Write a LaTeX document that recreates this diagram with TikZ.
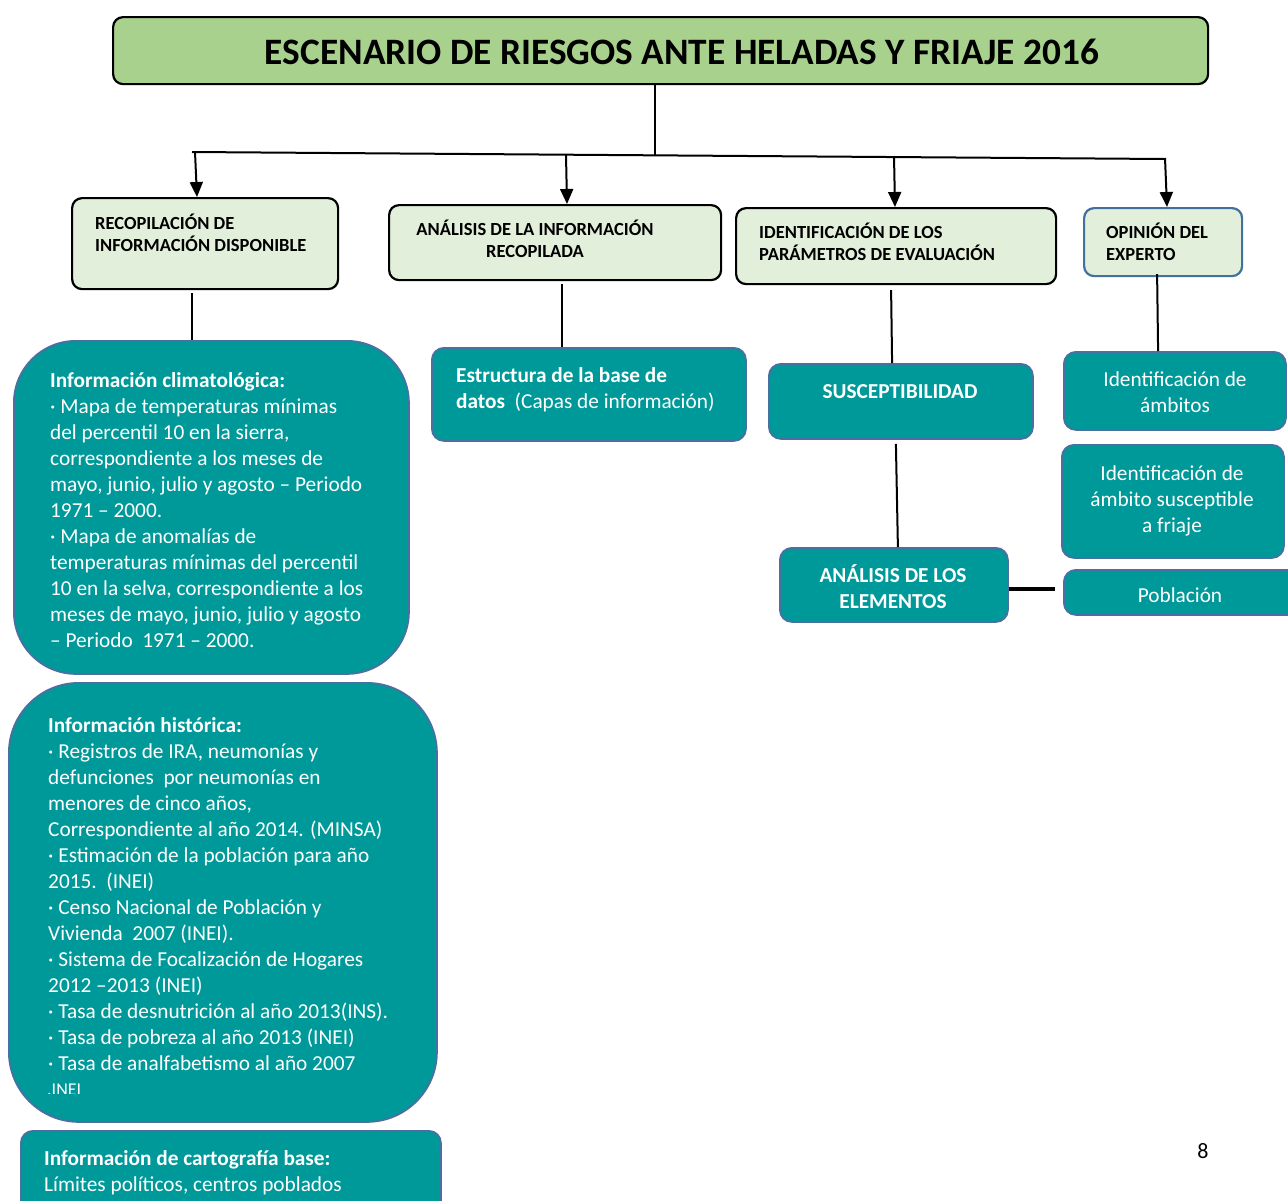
\documentclass[tikz,border=0pt]{standalone}
\usepackage{fontspec}
\setmainfont{Carlito}
\usetikzlibrary{arrows.meta}
\definecolor{titlegreen}{HTML}{A9D18E}
\definecolor{lightgreen}{HTML}{E2EFDA}
\definecolor{tealfill}{HTML}{009999}
\definecolor{tealborder}{HTML}{4A6FA0}
\definecolor{blueborder}{HTML}{41719C}
\newcommand\txtblock[2]{\parbox[t]{#1}{\raggedright #2}}
\newcommand\ctrblock[2]{\parbox[t]{#1}{\centering #2}}
\tikzset{
  boxbase/.style={inner sep=0pt, anchor=north west},
  titlebox/.style={boxbase, draw=black, line width=2.2pt, fill=titlegreen, rounded corners=10pt},
  stepbox/.style={boxbase, draw=black, line width=2.2pt, fill=lightgreen, rounded corners=10pt},
  expertbox/.style={boxbase, draw=blueborder, line width=2.2pt, fill=lightgreen, rounded corners=10pt},
  tealbox/.style={boxbase, draw=tealborder, line width=1.8pt, fill=tealfill, rounded corners=12pt},
  bigteal/.style={tealbox, rounded corners=62pt},
  txt/.style={inner sep=0pt, anchor=base west},
  ctxt/.style={inner sep=0pt, anchor=base},
  headfont/.style={font=\bfseries\fontsize{18.5}{22.5}\selectfont},
  bodyfont/.style={font=\fontsize{21.3}{26}\selectfont, text=white},
  conn/.style={line width=2pt, draw=black},
  arr/.style={conn, -{Triangle[length=15pt,width=13pt]}}
}
\begin{document}
\begin{tikzpicture}[x=1pt,y=-1pt]
\useasboundingbox (0,0) rectangle (1288,1200);
\clip (0,0) rectangle (1288,1200);
\fill[white] (0,0) rectangle (1288,1200);

% title
\node[titlebox, minimum width=1095pt, minimum height=67pt] (title) at (112,16) {};
\node[ctxt, font=\bfseries\fontsize{37.3}{40}\selectfont] (titletxt) at (682,64) {ESCENARIO DE RIESGOS ANTE HELADAS Y FRIAJE 2016};

% second row
\node[stepbox, minimum width=266pt, minimum height=91pt] (b1) at (71,197) {};
\node[stepbox, minimum width=332pt, minimum height=75pt] (b2) at (388,204) {};
\node[stepbox, minimum width=320pt, minimum height=76pt] (b3) at (735,207) {};
\node[expertbox, minimum width=158pt, minimum height=68pt] (b4) at (1083,207) {};
\node[txt, headfont] (b1t) at (95,229) {\txtblock{240pt}{RECOPILACIÓN DE\\INFORMACIÓN DISPONIBLE}};
\node[ctxt, headfont] (b2t) at (535,235) {\ctrblock{320pt}{ANÁLISIS DE LA INFORMACIÓN\\RECOPILADA}};
\node[txt, headfont] (b3t) at (759,238) {\txtblock{290pt}{IDENTIFICACIÓN DE LOS\\PARÁMETROS DE EVALUACIÓN}};
\node[txt, headfont] (b4t) at (1106,238) {\txtblock{130pt}{OPINIÓN DEL\\EXPERTO}};

% teal boxes, left column
\node[bigteal, minimum width=395pt, minimum height=333pt] (c1) at (13,340) {};
\node[txt, bodyfont] (c1t) at (50,387) {\txtblock{370pt}{\textbf{Información climatológica:}\\
· Mapa de temperaturas mínimas\\
del percentil 10 en la sierra,\\
correspondiente a los meses de\\
mayo, junio, julio y agosto – Periodo\\
1971 – 2000.\\
· Mapa de anomalías de\\
temperaturas mínimas del percentil\\
10 en la selva, correspondiente a los\\
meses de mayo, junio, julio y agosto\\
– Periodo\ \ 1971 – 2000.}};

\node[bigteal, rounded corners=70pt, minimum width=428pt, minimum height=439pt] (c2) at (8,682) {};
\node[txt, bodyfont] (c2t) at (48,732) {\txtblock{385pt}{\textbf{Información histórica:}\\
· Registros de IRA, neumonías y\\
defunciones\ \ por neumonías en\\
menores de cinco años,\\
Correspondiente al año 2014. (MINSA)\\
· Estimación de la población para año\\
2015.\ \ (INEI)\\
· Censo Nacional de Población y\\
Vivienda\ \ 2007 (INEI).\\
· Sistema de Focalización de Hogares\\
2012 –2013 (INEI)\\
· Tasa de desnutrición al año 2013(INS).\\
· Tasa de pobreza al año 2013 (INEI)\\
· Tasa de analfabetismo al año 2007}};
\begin{scope}
\clip (40,1076) rectangle (120,1093);
\node[txt, font=\fontsize{18}{20}\selectfont, text=white] (c2x) at (47,1095) {.INEI};
\end{scope}

\node[tealbox, minimum width=420pt, minimum height=100pt] (c3) at (20,1130) {};
\node[txt, bodyfont] (c3t) at (44,1165) {\txtblock{390pt}{\textbf{Información de cartografía base:}\\
Límites políticos, centros poblados}};

% middle teal boxes
\node[tealbox, minimum width=314pt, minimum height=93pt] (d1) at (431,347) {};
\node[txt, bodyfont] (d1t) at (456,382) {\txtblock{290pt}{\textbf{Estructura de la base de}\\\textbf{datos}\ \ (Capas de información)}};
\node[tealbox, minimum width=264pt, minimum height=75pt] (d2) at (768,363) {};
\node[ctxt, bodyfont] (d2t) at (900,398) {\textbf{SUSCEPTIBILIDAD}};
\node[tealbox, minimum width=228pt, minimum height=74pt] (d3) at (779,547) {};
\node[ctxt, bodyfont] (d3t) at (893,582) {\ctrblock{220pt}{\textbf{ANÁLISIS DE LOS}\\\textbf{ELEMENTOS}}};

% right teal boxes
\node[tealbox, minimum width=222pt, minimum height=78pt] (e1) at (1063,351) {};
\node[ctxt, bodyfont] (e1t) at (1175,386) {\ctrblock{210pt}{Identificación de\\ámbitos}};
\node[tealbox, minimum width=222pt, minimum height=113pt] (e2) at (1061,444) {};
\node[ctxt, bodyfont] (e2t) at (1172,480) {\ctrblock{215pt}{Identificación de\\ámbito susceptible\\a friaje}};
\node[tealbox, minimum width=240pt, minimum height=45pt] (e3) at (1063,569) {};
\node[ctxt, bodyfont] (e3t) at (1180,602) {Población};

% page number
\node[ctxt, font=\fontsize{22}{24}\selectfont] (pg) at (1203,1158) {8};

% connectors
\coordinate (j0) at (655,155);
\coordinate (hl) at (192,152);
\coordinate (hr) at (1165,159);
\coordinate (a1) at (195,152);
\coordinate (a2) at (566,155);
\coordinate (a3) at (894,156);
\coordinate (a4) at (1165,158);
\draw[conn] (title.south -| j0) -- (j0);
\draw[conn] (hl) -- (hr);
\draw[arr] (a1) -- ([xshift=2pt]a1 |- b1.north);
\draw[arr] (a2) -- ([xshift=1pt]a2 |- b2.north);
\draw[arr] (a3) -- ([xshift=1pt]a3 |- b3.north);
\draw[arr] (a4) -- ([xshift=2pt]a4 |- b4.north);

\draw[conn] ([xshift=-13pt,yshift=-3pt]b1.south) -- ([xshift=-13pt]b1.south |- c1.north);
\draw[conn] ([xshift=7pt,yshift=-3pt]b2.south) -- ([xshift=7pt]b2.south |- d1.north);
\draw[conn] ([xshift=-5pt,yshift=-5pt]b3.south) -- ([xshift=-4pt]b3.south |- d2.north);
\draw[conn] ([xshift=-6pt,yshift=3pt]b4.south) -- ([xshift=-5pt]b4.south |- e1.north);
\draw[conn] ([xshift=-5pt,yshift=-4pt]d2.south) -- ([xshift=4pt]d3.north);
\coordinate (pe) at (1055,589);
\draw[line width=4pt] (d3.east |- pe) -- (pe);
\end{tikzpicture}
\end{document}
